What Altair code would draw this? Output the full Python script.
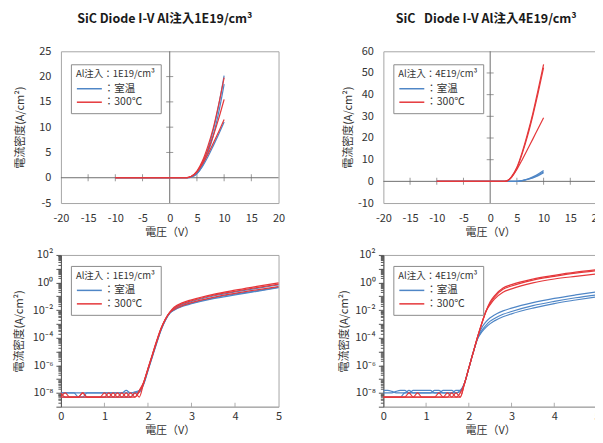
import altair as alt
import pandas as pd

FONT = "Noto Sans CJK JP"
BLUE = "#4f86c6"
RED = "#e5383b"
FRAME = "#a6a6a6"
ZERO = "#6e6e6e"
TEXT = "#333333"

TEMPS = ["室温", "300℃"]

# ---------------- linear I-V : Al 1E19/cm3 ----------------
V_lin_1e19 = [-10, -5, 0, 2, 3, 3.5, 4, 5, 6, 7, 8, 9, 10]
J_1e19_rt_a = [0, 0, 0, 0, 0, 0.05, 0.2, 1.0, 2.8, 5.6, 9.4, 14.3, 20.2]
J_1e19_rt_b = [0, 0, 0, 0, 0, 0.03, 0.15, 0.8, 2.4, 4.9, 8.3, 12.9, 18.5]
J_1e19_rt_c = [0, 0, 0, 0, 0, 0.03, 0.15, 0.8, 2.2, 4.1, 6.3, 8.6, 11.0]
J_1e19_ht_a = [0, 0, 0, 0, 0, 0.1, 0.3, 1.3, 3.3, 6.2, 9.8, 14.5, 19.8]
J_1e19_ht_b = [0, 0, 0, 0, 0, 0.1, 0.3, 1.2, 3.0, 5.4, 8.3, 11.7, 15.5]
J_1e19_ht_c = [0, 0, 0, 0, 0, 0.1, 0.3, 1.1, 2.7, 4.6, 6.8, 9.1, 11.5]

# ---------------- linear I-V : Al 4E19/cm3 ----------------
V_lin_4e19 = [-10, -5, 0, 2, 2.5, 3, 3.5, 4, 5, 6, 7, 8, 9, 10]
J_4e19_rt_a = [0, 0, 0, 0, 0, 0, 0, 0, 0.05, 0.4, 1.1, 2.1, 3.4, 5.0]
J_4e19_rt_b = [0, 0, 0, 0, 0, 0, 0, 0, 0.04, 0.35, 0.95, 1.8, 2.9, 4.4]
J_4e19_rt_c = [0, 0, 0, 0, 0, 0, 0, 0, 0.03, 0.3, 0.85, 1.6, 2.6, 4.0]
J_4e19_ht_a = [0, 0, 0, 0, 0, 0.1, 0.8, 2.2, 6.5, 13.5, 22.0, 31.5, 42.5, 54.0]
J_4e19_ht_b = [0, 0, 0, 0, 0, 0.1, 0.7, 2.0, 6.0, 12.8, 21.0, 30.5, 41.0, 52.5]
J_4e19_ht_c = [0, 0, 0, 0, 0, 0.1, 0.7, 1.9, 5.5, 10.0, 14.8, 19.6, 24.5, 29.3]

# ---------------- log I-V (0-5 V) ----------------
V_log = [0.0, 0.1, 0.2, 0.3, 0.4, 0.5, 0.6, 0.7, 0.8, 0.9, 1.0, 1.1, 1.2, 1.3, 1.4,
         1.5, 1.6, 1.7, 1.8, 1.9, 2.0, 2.1, 2.2, 2.3, 2.4, 2.5, 2.6, 2.8, 3.0,
         3.5, 4.0, 4.5, 5.0]

L_1e19_rt_a = [1e-8, 1e-8, 1e-8, 1e-8, 1e-8, 1e-8, 1e-8, 1e-8, 1e-8, 1e-8, 1e-8, 1e-8, 1e-8, 1e-8, 1e-8,
               1.5e-8, 1e-8, 1e-8, 1.1e-8, 4.5e-8, 4.5e-7, 4.5e-6, 4.5e-5, 3.8e-4, 1.9e-3, 6.0e-3,
               1.26e-2, 2.6e-2, 4.2e-2, 0.105, 0.21, 0.38, 0.68]
L_1e19_rt_b = [1e-8, 1e-8, 1e-8, 1e-8, 5e-9, 5e-9, 1e-8, 1e-8, 1e-8, 1e-8, 1e-8, 1e-8, 1e-8, 1e-8, 1e-8,
               1e-8, 1e-8, 1.2e-8, 1.5e-8, 5e-8, 5e-7, 5e-6, 5e-5, 4e-4, 2e-3, 6.3e-3,
               1.07e-2, 2.1e-2, 3.2e-2, 0.076, 0.145, 0.25, 0.47]
L_1e19_rt_c = [5e-9, 5e-9, 5e-9, 5e-9, 5e-9, 5e-9, 5e-9, 5e-9, 5e-9, 5e-9, 5e-9, 5e-9, 5e-9, 5e-9, 5e-9,
               5e-9, 5e-9, 1e-8, 1.3e-8, 4e-8, 4e-7, 4e-6, 4e-5, 3.5e-4, 1.8e-3, 5.8e-3,
               1.0e-2, 1.9e-2, 2.9e-2, 0.068, 0.126, 0.23, 0.42]
L_1e19_ht_a = [1e-8, 5e-9, 5e-9, 5e-9, 5e-9, 1e-8, 5e-9, 5e-9, 5e-9, 5e-9, 5e-9, 1e-8, 5e-9, 1e-8, 5e-9,
               1e-8, 5e-9, 5e-9, 1.2e-8, 5.5e-8, 5.5e-7, 5.5e-6, 5.5e-5, 4.5e-4, 2.2e-3, 7.0e-3,
               1.6e-2, 3.5e-2, 5.6e-2, 0.14, 0.28, 0.52, 0.95]
L_1e19_ht_b = [5e-9, 1e-8, 5e-9, 5e-9, 5e-9, 5e-9, 5e-9, 5e-9, 5e-9, 5e-9, 1e-8, 5e-9, 1e-8, 5e-9, 1e-8,
               5e-9, 1e-8, 5e-9, 1.5e-8, 6e-8, 6e-7, 6e-6, 6e-5, 4.8e-4, 2.3e-3, 6.8e-3,
               1.4e-2, 3.0e-2, 4.8e-2, 0.12, 0.23, 0.43, 0.76]
L_1e19_ht_c = [5e-9, 5e-9, 5e-9, 5e-9, 5e-9, 1e-8, 5e-9, 5e-9, 5e-9, 5e-9, 5e-9, 5e-9, 5e-9, 5e-9, 5e-9,
               5e-9, 5e-9, 1e-8, 5e-9, 5e-8, 5e-7, 5e-6, 5e-5, 4.2e-4, 2.1e-3, 6.5e-3,
               1.12e-2, 2.2e-2, 3.5e-2, 0.085, 0.166, 0.295, 0.5]

L_4e19_rt_a = [1.5e-8, 1.5e-8, 1.3e-8, 1e-8, 1e-8, 1e-8, 1.5e-8, 1e-8, 1e-8, 1e-8, 1e-8, 1e-8, 1.5e-8, 1.5e-8, 1e-8,
               1e-8, 1e-8, 1.5e-8, 1.5e-8, 5e-8, 6.3e-7, 7.9e-6, 7.9e-5, 5e-4, 1.4e-3, 2.8e-3,
               4.5e-3, 8.9e-3, 1.4e-2, 3.5e-2, 7.1e-2, 0.126, 0.21]
L_4e19_rt_b = [1e-8, 1e-8, 1e-8, 1.3e-8, 1.5e-8, 1.5e-8, 1e-8, 1.5e-8, 1.5e-8, 1.5e-8, 1.5e-8, 1.5e-8, 1e-8, 1e-8, 1.5e-8,
               1.5e-8, 1.5e-8, 1e-8, 1.5e-8, 5e-8, 6.3e-7, 7.9e-6, 7.9e-5, 3.2e-4, 7.9e-4, 1.6e-3,
               2.5e-3, 5.0e-3, 7.9e-3, 2.1e-2, 4.3e-2, 7.9e-2, 0.13]
L_4e19_rt_c = [5e-9, 5e-9, 5e-9, 5e-9, 5e-9, 1e-8, 1e-8, 1e-8, 1e-8, 1e-8, 1e-8, 1e-8, 1e-8, 1e-8, 1e-8,
               1e-8, 1e-8, 1e-8, 1.2e-8, 5e-8, 6.3e-7, 7.9e-6, 7.9e-5, 2.5e-4, 5.6e-4, 1.05e-3,
               1.66e-3, 3.3e-3, 5.4e-3, 1.4e-2, 3.0e-2, 5.4e-2, 9.3e-2]
L_4e19_ht_a = [5e-9, 5e-9, 5e-9, 5e-9, 5e-9, 5e-9, 1e-8, 5e-9, 1e-8, 5e-9, 5e-9, 5e-9, 5e-9, 1e-8, 5e-9,
               5e-9, 1e-8, 5e-9, 5e-9, 5e-8, 6.3e-7, 7.9e-6, 1e-4, 1e-3, 7.9e-3, 4e-2,
               0.11, 0.4, 0.71, 1.8, 3.3, 5.6, 8.5]
L_4e19_ht_b = [5e-9, 5e-9, 5e-9, 5e-9, 5e-9, 5e-9, 5e-9, 5e-9, 5e-9, 5e-9, 5e-9, 5e-9, 5e-9, 5e-9, 5e-9,
               1e-8, 5e-9, 5e-9, 1e-8, 5e-8, 6.3e-7, 7.9e-6, 1e-4, 1e-3, 7.9e-3, 3.2e-2,
               8.9e-2, 0.32, 0.56, 1.5, 2.8, 4.8, 7.2]
L_4e19_ht_c = [5e-9, 5e-9, 5e-9, 5e-9, 5e-9, 5e-9, 5e-9, 5e-9, 5e-9, 5e-9, 5e-9, 5e-9, 5e-9, 5e-9, 5e-9,
               5e-9, 5e-9, 1e-8, 5e-9, 5e-8, 6.3e-7, 7.9e-6, 1e-4, 1e-3, 7.9e-3, 2.5e-2,
               6.3e-2, 0.2, 0.35, 0.95, 1.8, 2.8, 4.2]

# axis / tick values
X_LIN_TICKS = [-20, -15, -10, -5, 0, 5, 10, 15, 20]
X_LIN_MARKS = [-15, -10, -5, 5, 10, 15]
Y_1E19_TICKS = [-5, 0, 5, 10, 15, 20, 25]
Y_1E19_MARKS = [5, 10, 15, 20]
Y_4E19_TICKS = [-10, 0, 10, 20, 30, 40, 50, 60]
Y_4E19_MARKS = [10, 20, 30, 40, 50]
X_LOG_TICKS = [0, 1, 2, 3, 4, 5]
X_LOG_MARKS = [1, 2, 3, 4]
Y_LOG_MIN, Y_LOG_MAX = 1e-9, 1e2
Y_LOG_TICKS = [m * 10.0 ** e for e in range(-9, 2) for m in range(1, 10)] + [100.0]


def build(V, curves):
    rows = []
    for temp, name, vals in curves:
        for v, j in zip(V, vals):
            rows.append({"V": v, "J": j, "temp": temp, "curve": name})
    return pd.DataFrame(rows)


df1 = build(V_lin_1e19, [("室温", "a", J_1e19_rt_a), ("室温", "b", J_1e19_rt_b), ("室温", "c", J_1e19_rt_c),
                         ("300℃", "d", J_1e19_ht_a), ("300℃", "e", J_1e19_ht_b), ("300℃", "f", J_1e19_ht_c)])
df2 = build(V_lin_4e19, [("室温", "a", J_4e19_rt_a), ("室温", "b", J_4e19_rt_b), ("室温", "c", J_4e19_rt_c),
                         ("300℃", "d", J_4e19_ht_a), ("300℃", "e", J_4e19_ht_b), ("300℃", "f", J_4e19_ht_c)])
df3 = build(V_log, [("室温", "a", L_1e19_rt_a), ("室温", "b", L_1e19_rt_b), ("室温", "c", L_1e19_rt_c),
                    ("300℃", "d", L_1e19_ht_a), ("300℃", "e", L_1e19_ht_b), ("300℃", "f", L_1e19_ht_c)])
df4 = build(V_log, [("室温", "a", L_4e19_rt_a), ("室温", "b", L_4e19_rt_b), ("室温", "c", L_4e19_rt_c),
                    ("300℃", "d", L_4e19_ht_a), ("300℃", "e", L_4e19_ht_b), ("300℃", "f", L_4e19_ht_c)])

Y_TITLE = "電流密度(A/cm²)"
X_TITLE = "電圧（V）"
PLAIN = "'' + datum.value"


def legend(title, lx, ly):
    return alt.Legend(orient="none", legendX=lx, legendY=ly, title=title,
                      titleFont=FONT, titleFontSize=9.5, titleFontWeight="normal", titleColor=TEXT,
                      titlePadding=4,
                      labelFont=FONT, labelFontSize=10.5, labelColor=TEXT, labelOffset=16,
                      labelExpr="'：' + datum.label",
                      symbolType="M-1,0H4", symbolSize=100, symbolStrokeWidth=1.5,
                      strokeColor="#8c8c8c", fillColor="white", padding=5, rowPadding=1.5)


def color_enc(title, lx, ly):
    return alt.Color("temp:N", sort=TEMPS,
                     scale=alt.Scale(domain=TEMPS, range=[BLUE, RED]),
                     legend=legend(title, lx, ly))


def linear_panel(df, title, ydom, yticks, ymarks, legend_title, width, ttl_pad, title_dx):
    xs = alt.Scale(domain=[-20, 20], nice=False)
    ys = alt.Scale(domain=ydom, nice=False)
    xax = alt.Axis(values=X_LIN_TICKS, ticks=False, domain=False, grid=False, title=X_TITLE,
                   labelPadding=9, titlePadding=4, labelOverlap=False, labelSeparation=0,
                   labelFlush=False, labelExpr=PLAIN)
    yax = alt.Axis(values=yticks, ticks=False, domain=False, grid=False, title=Y_TITLE,
                   labelPadding=10, minExtent=28, maxExtent=28, titlePadding=ttl_pad,
                   labelOverlap=False, labelSeparation=0, labelFlush=False, labelExpr=PLAIN)
    xe = alt.X("V:Q", scale=xs, axis=xax)
    ye = alt.Y("J:Q", scale=ys, axis=yax)
    zero_h = alt.Chart(pd.DataFrame({"J": [0]})).mark_rule(color=ZERO, strokeWidth=1).encode(y=ye)
    zero_v = alt.Chart(pd.DataFrame({"V": [0]})).mark_rule(color=ZERO, strokeWidth=1).encode(x=xe)
    xm = alt.Chart(pd.DataFrame({"V": X_LIN_MARKS, "J": [0] * len(X_LIN_MARKS)})).mark_tick(
        orient="vertical", size=7, thickness=1, color=ZERO).encode(x=xe, y=ye)
    ym = alt.Chart(pd.DataFrame({"V": [0] * len(ymarks), "J": ymarks})).mark_tick(
        orient="horizontal", size=7, thickness=1, color=ZERO).encode(x=xe, y=ye)
    lines = alt.Chart(df).mark_line(strokeWidth=1.2, interpolate="monotone").encode(
        x=xe, y=ye,
        color=color_enc(legend_title, 10, 13),
        detail="curve:N")
    return alt.layer(zero_h, zero_v, xm, ym, lines).properties(
        width=width, height=152,
        title=alt.Title(title, font=FONT, fontSize=12.5, fontWeight="bold", color="#1a1a1a",
                        anchor="middle", offset=20, dx=title_dx))


E = "round(log(datum.value)/LN10*1000)/1000"
LOG_LABELS = (f"{E}==2?'10²':{E}==0?'10⁰':{E}==-2?'10⁻²':{E}==-4?'10⁻⁴':"
              f"{E}==-6?'10⁻⁶':{E}==-8?'10⁻⁸':''")


def log_panel(df, legend_title, width, ttl_pad):
    xs = alt.Scale(domain=[0, 5], nice=False)
    ys = alt.Scale(type="log", domain=[Y_LOG_MIN, Y_LOG_MAX], nice=False)
    xax = alt.Axis(values=X_LOG_TICKS, grid=False, title=X_TITLE, ticks=False,
                   domainColor=FRAME, labelPadding=4, titlePadding=3, labelOverlap=False,
                   labelFlush=False, labelExpr=PLAIN)
    yax = alt.Axis(values=Y_LOG_TICKS, grid=False, title=Y_TITLE, labelExpr=LOG_LABELS,
                   labelOverlap=False, labelPadding=3, labelFlush=False,
                   tickSize={"condition": {"test": f"{E}%1==0", "value": 5}, "value": 3},
                   tickColor="#555555", domainColor="#555555",
                   minExtent=30, maxExtent=30, titlePadding=ttl_pad)
    xe = alt.X("V:Q", scale=xs, axis=xax)
    ye = alt.Y("J:Q", scale=ys, axis=yax)
    xm = alt.Chart(pd.DataFrame({"V": X_LOG_MARKS, "J": [Y_LOG_MIN] * len(X_LOG_MARKS)})).mark_tick(
        orient="vertical", size=8, thickness=1, color="#8c8c8c", clip=True).encode(x=xe, y=ye)
    lines = alt.Chart(df).mark_line(strokeWidth=1.2, interpolate="monotone").encode(
        x=xe, y=ye,
        color=color_enc(legend_title, 10, 11),
        detail="curve:N")
    return alt.layer(xm, lines).properties(width=width, height=152)


p1 = linear_panel(df1, "SiC Diode I-V Al注入1E19/cm³", [-5, 25], Y_1E19_TICKS, Y_1E19_MARKS,
                  "Al注入：1E19/cm³", 218, 7, -5)
p2 = linear_panel(df2, "SiC\u00a0\u00a0\u00a0Diode I-V Al注入4E19/cm³", [-10, 60], Y_4E19_TICKS,
                  Y_4E19_MARKS, "Al注入：4E19/cm³", 214, 2, -4)
p3 = log_panel(df3, "Al注入：1E19/cm³", 218, 6)
p4 = log_panel(df4, "Al注入：4E19/cm³", 214, 4)

chart = alt.concat(p1, p2, p3, p4, columns=2, spacing={"row": 52, "column": 105},
                   bounds="flush").resolve_scale(color="independent").properties(
    padding={"left": 5, "top": 4, "right": -9, "bottom": 0},
    background="white"
).configure_view(stroke=FRAME, strokeWidth=1).configure_axis(
    labelFont=FONT, labelFontSize=11, labelColor=TEXT, labelOverlap=False, labelFlush=False,
    titleFont=FONT, titleFontSize=11, titleFontWeight="normal", titleColor=TEXT
)

chart.save("out.html", embed_options={"renderer": "svg", "actions": False})
